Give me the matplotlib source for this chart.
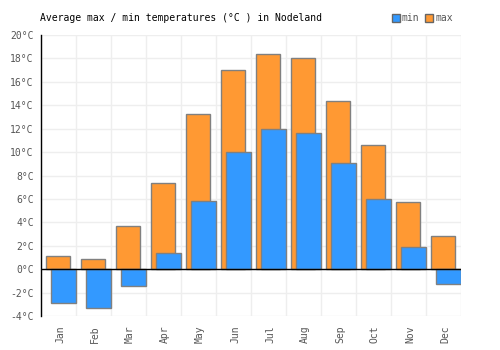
import numpy as np
import matplotlib.pyplot as plt
from matplotlib.patches import Patch

months = ['Jan', 'Feb', 'Mar', 'Apr', 'May', 'Jun', 'Jul', 'Aug', 'Sep', 'Oct', 'Nov', 'Dec']
t_min = [-2.9, -3.3, -1.45, 1.4, 5.8, 10.0, 12.0, 11.6, 9.05, 6.0, 1.9, -1.3]
t_max = [1.1, 0.9, 3.7, 7.4, 13.25, 17.0, 18.4, 18.0, 14.35, 10.6, 5.7, 2.8]
y_ticks = list(range(-4, 21, 2))

plt.rcParams['font.family'] = 'DejaVu Sans Mono'

fig = plt.figure(figsize=(5, 3.5), dpi=100)
ax = fig.add_axes([0.0814, 0.0971, 0.84, 0.8029])

x = np.arange(len(months))
# max bars drawn first, min bars shifted right and on top
ax.bar(x, t_max, width=0.67, color='#ff9933', edgecolor='#808080', linewidth=1, zorder=2)
ax.bar(x + 0.15, t_min, width=0.7, color='#3399ff', edgecolor='#808080', linewidth=1, zorder=3)

ax.set_xlim(-0.5, 11.5)
ax.set_ylim(-4, 20)
ax.axhline(0, color='black', linewidth=1, zorder=4)

# grid
ax.set_yticks(y_ticks)
ax.set_yticklabels(['%d°C' % v for v in y_ticks])
for v in y_ticks:
    ax.axhline(v, color='#eeeeee', linewidth=1, zorder=0)
for b in np.arange(-0.5, 12, 1):
    ax.axvline(b, color='#eeeeee', linewidth=1, zorder=0)

ax.set_xticks(x + 0.05)
ax.set_xticklabels(months, rotation=90)
ax.tick_params(axis='both', length=0, labelsize=7, labelcolor='#555555')
ax.tick_params(axis='x', pad=7)
ax.tick_params(axis='y', pad=5)

for s in ['top', 'right', 'bottom']:
    ax.spines[s].set_visible(False)
ax.spines['left'].set_color('black')
ax.spines['left'].set_linewidth(1)

fig.text(0.081, 0.948, 'Average max / min temperatures (°C ) in Nodeland', fontsize=7, va='center', ha='left')

handles = [Patch(facecolor='#3399ff', edgecolor='#666666', label='min'),
           Patch(facecolor='#ff9933', edgecolor='#666666', label='max')]
leg = fig.legend(handles=handles, loc='center right', bbox_to_anchor=(0.915, 0.948), ncol=2,
                 frameon=False, fontsize=7, handlelength=0.8, handleheight=0.8,
                 handletextpad=0.2, columnspacing=0.6, borderpad=0)
for t in leg.get_texts():
    t.set_color('#555555')

fig.savefig('out.png', dpi=100)
